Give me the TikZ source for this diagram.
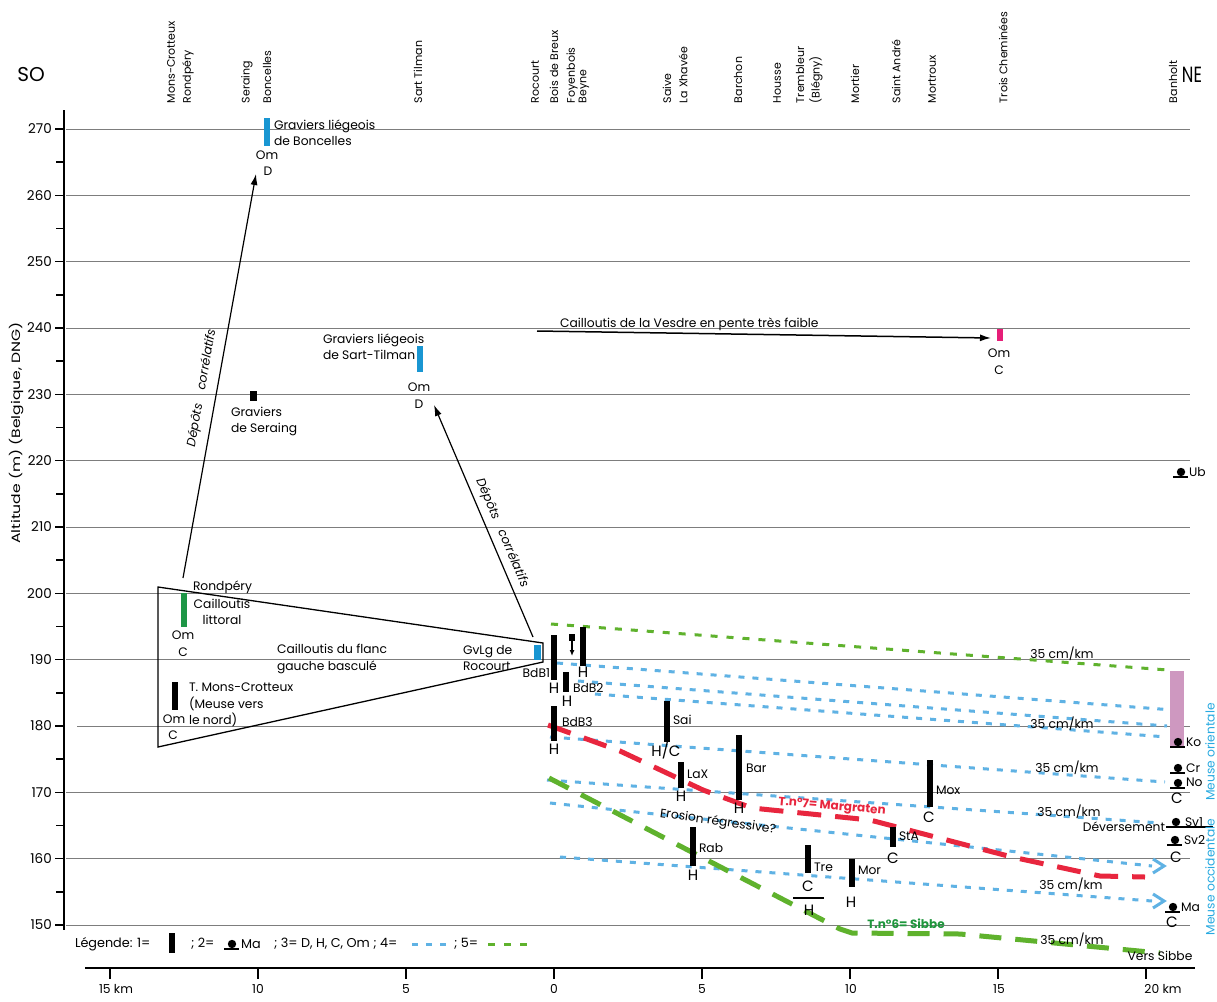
\documentclass[tikz,border=0pt]{standalone}
\usepackage{fontspec}
\setmainfont{Poppins}
\usetikzlibrary{arrows.meta}
\definecolor{gridc}{RGB}{125,125,125}
\definecolor{dblue}{RGB}{95,178,228}
\definecolor{dgreen}{RGB}{95,178,45}
\definecolor{sgreen}{RGB}{95,178,45}
\definecolor{tgreen}{RGB}{30,150,60}
\definecolor{dred}{RGB}{232,38,62}
\definecolor{barblue}{RGB}{25,150,210}
\definecolor{bargreen}{RGB}{30,150,70}
\definecolor{barpink}{RGB}{230,30,120}
\definecolor{mauve}{RGB}{206,152,192}
\definecolor{meuse}{RGB}{40,170,225}
\newcommand{\fsA}{\fontsize{12.3}{16.5}\selectfont}
\newcommand{\fsB}{\fontsize{15}{16}\selectfont}
\newcommand{\fsT}{\fontsize{11}{14}\selectfont}
\newcommand{\fsL}{\fontsize{12.8}{16}\selectfont}
\newcommand{\ballsym}[3]{\fill (#1,#2) circle (4.2pt); \draw[line width=1.3pt] ({#1-8},{#2+5}) -- ({#1+#3},{#2+5});}
\tikzset{
  lbl/.style={inner sep=0pt, outer sep=0pt, font=\fsA, align=left},
  hc/.style={inner sep=0pt, outer sep=0pt, font=\fsB},
  toplbl/.style={inner sep=0pt, outer sep=0pt, font=\fsT, rotate=90, anchor=west},
  leglbl/.style={inner sep=0pt, outer sep=0pt, font=\fsL, anchor=west},
  gridl/.style={draw=gridc, line width=0.8pt},
  bluedash/.style={draw=dblue, line width=3pt, dash pattern=on 6pt off 8pt},
  greendash/.style={draw=dgreen, line width=3pt, dash pattern=on 7pt off 9pt},
  reddash/.style={draw=dred, line width=5pt, dash pattern=on 24pt off 14pt},
  sibbedash/.style={draw=sgreen, line width=5pt, dash pattern=on 22pt off 14pt},
  arr/.style={-{Latex[length=11pt,width=7pt]}, line width=1.2pt},
  chev/.style={draw=dblue, line width=3pt, line join=miter}
}
\begin{document}
\begin{tikzpicture}[x=1pt,y=-1pt]
\useasboundingbox (0,0) rectangle (1217,1001);
\fill[white] (0,0) rectangle (1217,1001);

% grid and y axis
\foreach \a in {150,160,...,270}{
  \pgfmathsetmacro\yy{129+(270-\a)*6.633}
  \pgfmathsetmacro\xs{\a==180 ? 77 : 66}
  \draw[gridl] (\xs,\yy) -- (1190,\yy);
  \draw[line width=1.5pt] (55,\yy) -- (64,\yy);
  \node[inner sep=0pt, anchor=east, font=\fontsize{13.5}{14}\selectfont] at (52,\yy) {\a};
}
\foreach \a in {155,165,...,265}{
  \pgfmathsetmacro\yy{129+(270-\a)*6.633}
  \draw[line width=1.5pt] (56,\yy) -- (64,\yy);
}
\draw[line width=2pt] (64,110) -- (64,930);
\node[inner sep=0pt, rotate=90, font=\fontsize{12}{14}\selectfont] (ytitle) at (17,433) {\scalebox{1.3}[1]{Altitude (m) (Belgique, DNG)}};

% x axis
\draw[line width=2pt] (85,968) -- (1195,968);
\foreach \x in {110,258,406,554,702,850,998,1146}{
  \draw[line width=2pt] (\x,968) -- (\x,979);
}
\node[lbl] (k15) at (116,989) {15 km};
\node[lbl] (k10) at (258,989) {10};
\node[lbl] (k5) at (406,989) {5};
\node[lbl] (k0) at (554,989) {0};
\node[lbl] (p5) at (702,989) {5};
\node[lbl] (p10) at (851,989) {10};
\node[lbl] (p15) at (999,989) {15};
\node[lbl] (p20) at (1163,989) {20 km};

% top labels
\node[font=\fontsize{20}{20}\selectfont, inner sep=0pt] (SO) at (31,75) {SO};
\node[font=\fontsize{22}{22}\selectfont, inner sep=0pt] (NE) at (1192,75) {\scalebox{0.75}[1]{NE}};
\node[toplbl] (tMC) at (171,103) {Mons-Crotteux};
\node[toplbl] (tRo) at (188,103) {Rondpéry};
\node[toplbl] (tSe) at (247,103) {Seraing};
\node[toplbl] (tBo) at (267,103) {Boncelles};
\node[toplbl] (tST) at (418,103) {Sart Tilman};
\node[toplbl] (tRc) at (535,103) {Rocourt};
\node[toplbl] (tBB) at (554,103) {Bois de Breux};
\node[toplbl] (tFo) at (572,103) {Foyenbois};
\node[toplbl] (tBe) at (584,103) {Beyne};
\node[toplbl] (tSa) at (667,103) {Saive};
\node[toplbl] (tLX) at (683,103) {La Xhavée};
\node[toplbl] (tBa) at (738,103) {Barchon};
\node[toplbl] (tHo) at (777,103) {Housse};
\node[toplbl] (tTr) at (800,103) {Trembleur};
\node[toplbl] (tBl) at (816,103) {(Blégny)};
\node[toplbl] (tMo) at (855,103) {Mortier};
\node[toplbl] (tSA) at (896,103) {Saint André};
\node[toplbl] (tMx) at (932,103) {Mortroux};
\node[toplbl] (tTC) at (1003,103) {Trois Cheminées};
\node[toplbl] (tBh) at (1173,103) {Banholt};

% Boncelles
\fill[barblue] (264,118) rectangle (270,146);
\node[lbl, anchor=west] (gBo) at (274,132.5) {Graviers liégeois\\de Boncelles};
\node[lbl] (omBo) at (267,155) {Om};
\node[lbl] (dBo) at (268,171) {D};

% Seraing
\fill[black] (250,391) rectangle (257,401);
\node[lbl, anchor=west] (gSe) at (231,421.5) {Graviers\\de Seraing};

% Sart Tilman
\fill[barblue] (417,346) rectangle (423,372);
\node[lbl, anchor=west] (gST) at (323,346.5) {Graviers liégeois\\de Sart-Tilman};
\node[lbl] (omST) at (419,387) {Om};
\node[lbl] (dST) at (419,404) {D};

% Vesdre
\node[lbl, anchor=west] (vesdre) at (560,324) {Cailloutis de la Vesdre en pente très faible};
\coordinate (vA) at (537,331);
\coordinate (vB) at (991,338);
\draw[arr, line width=1.5pt] (vA) -- (vB);
\fill[barpink] (997,329) rectangle (1003,341);
\node[lbl] (omTC) at (999,353) {Om};
\node[lbl] (cTC) at (999,370) {C};

% triangle
\draw[line width=1.3pt, line join=miter] (158,587) -- (543,643) -- (543,662) -- (158,747) -- cycle;
\fill[bargreen] (181,593) rectangle (187,627);
\node[lbl, anchor=west] (rond) at (193,587) {Rondpéry};
\node[lbl, align=center] (cLit) at (222,612) {Cailloutis\\littoral};
\node[lbl] (omR) at (183,635) {Om};
\node[lbl] (cR) at (183,652) {C};
\node[lbl, anchor=west] (flanc) at (277,659) {Cailloutis du flanc\\gauche basculé};
\fill[barblue] (534,645) rectangle (541,660);
\node[lbl, anchor=west] (gvlg) at (463,658) {GvLg de\\Rocourt};
\fill[black] (172,682) rectangle (178,710);
\node[lbl, anchor=west] (tmc) at (189,705) {T. Mons-Crotteux\\(Meuse vers\\le nord)};
\node[lbl] (omM) at (174,719) {Om};
\node[lbl] (cM) at (173,735) {C};

% correlative deposit arrows
\coordinate (a1s) at (183,578);
\coordinate (a1e) at (256,174);
\draw[arr] (a1s) -- (a1e);
\node[lbl, rotate=80] (dep1) at (202,388) {\textit{Dépôts}\hspace{14pt}\textit{corrélatifs}};
\coordinate (a2s) at (533,637);
\coordinate (a2e) at (434,405);
\draw[arr] (a2s) -- (a2e);
\node[lbl, rotate=-67] (dep2) at (502,533) {\textit{Dépôts}\hspace{12pt}\textit{corrélatifs}};

% dashed terrace lines
\draw[greendash] (551,624) -- (1168,670);
\draw[bluedash] (557,663) -- (1173,710);
\draw[bluedash] (578,681) -- (1167,726);
\draw[bluedash] (595,694) -- (1167,737);
\draw[bluedash] (550,737) -- (1165,782);
\draw[bluedash] (547,780) -- (1160,823);
\draw[bluedash] (550,803) -- (1152,866);
\draw[chev] (1153,859) -- (1164,866) -- (1153,873);
\draw[bluedash] (560,857) -- (1152,901);
\draw[chev] (1153,894) -- (1164,901) -- (1153,908);
\draw[reddash] (548,725) -- (620,751) -- (703,790) -- (752,808) -- (870,820) -- (1012,857) -- (1100,876) -- (1145,877);
\draw[sibbedash] (549,778) -- (840,929) -- (852,933) -- (960,934) -- (1160,953);

% mauve bar
\fill[mauve] (1170,671) rectangle (1184,746);

% black bars and labels
\fill[black] (551,635) rectangle (557,680);
\node[lbl, anchor=east] (bdb1) at (550,673) {BdB1};
\node[hc] (hb1) at (554,688) {H};
\fill[black] (569,634) rectangle (575,641);
\coordinate (sqA) at (572,641);
\coordinate (sqB) at (572,656);
\draw[-{Latex[length=6pt,width=5pt]}, line width=1.2pt] (sqA) -- (sqB);
\fill[black] (580,627) rectangle (586,666);
\node[hc] (hb2a) at (583,672) {H};
\fill[black] (563,672) rectangle (569,692);
\node[lbl, anchor=west] (bdb2) at (573,688) {BdB2};
\node[hc] (hb2) at (567,701) {H};
\fill[black] (551,706) rectangle (557,741);
\node[lbl, anchor=west] (bdb3) at (562,722) {BdB3};
\node[hc] (hb3) at (554,749) {H};
\fill[black] (664,701) rectangle (670,742);
\node[lbl, anchor=west] (sai) at (673,720) {Sai};
\node[hc] (hsai) at (666,751) {H/C};
\fill[black] (678,762) rectangle (684,788);
\node[lbl, anchor=west] (lax) at (687,774) {LaX};
\node[hc] (hlax) at (681,796) {H};
\fill[black] (736,735) rectangle (742,800);
\node[lbl, anchor=west] (bar) at (746,768) {Bar};
\node[hc] (hbar) at (739,808) {H};
\fill[black] (690,827) rectangle (696,866);
\node[lbl, anchor=west] (rab) at (699,848) {Rab};
\node[hc] (hrab) at (693,875) {H};
\fill[black] (805,845) rectangle (811,873);
\node[lbl, anchor=west] (tre) at (814,867) {Tre};
\node[hc] (ctre) at (808,886) {C};
\draw[line width=1.5pt] (793,898) -- (824,898);
\node[hc] (htre) at (809,910) {H};
\fill[black] (849,859) rectangle (855,887);
\node[lbl, anchor=west] (mor) at (858,870) {Mor};
\node[hc] (hmor) at (851,902) {H};
\fill[black] (927,760) rectangle (933,807);
\node[lbl, anchor=west] (mox) at (936,790) {Mox};
\node[hc] (cmox) at (929,817) {C};
\fill[black] (890,827) rectangle (896,847);
\node[lbl, anchor=west] (sta) at (899,836) {StA};
\node[hc] (csta) at (893,858) {C};

% texts on the terraces
\node[lbl, rotate=-8] (eros) at (718,822) {Erosion régressive?};
\node[inner sep=0pt, font=\fontsize{12}{14}\selectfont\bfseries, text=dred, rotate=-5] (tn7) at (832,807) {T.n°7= Margraten};
\node[inner sep=0pt, font=\fontsize{12}{14}\selectfont\bfseries, text=tgreen] (tn6) at (906,924) {T.n°6= Sibbe};
\node[lbl] (s1) at (1062,654) {35 cm/km};
\node[lbl] (s2) at (1062,724) {35 cm/km};
\node[lbl] (s3) at (1067,768) {35 cm/km};
\node[lbl] (s4) at (1069,812) {35 cm/km};
\node[lbl] (s5) at (1071,885) {35 cm/km};
\node[lbl] (s6) at (1072,940) {35 cm/km};
\node[lbl] (vsib) at (1160,956) {Vers Sibbe};

% right column (Banholt)
\ballsym{1181}{472}{7}
\node[lbl, anchor=west] (ub) at (1189,472) {Ub};
\ballsym{1178}{742}{7}
\node[lbl, anchor=west] (ko) at (1186,742) {Ko};
\ballsym{1178}{768}{7}
\node[lbl, anchor=west] (cr) at (1186,768) {Cr};
\ballsym{1178}{783}{7}
\node[lbl, anchor=west] (no) at (1186,782) {No};
\node[hc] (cno) at (1177,798) {C};
\fill (1176,822) circle (4.2pt);
\draw[line width=1.3pt] (1166,827) -- (1213,827);
\node[lbl, anchor=east] (dev) at (1165,827) {Déversement};
\node[lbl, anchor=west] (sv1) at (1185,822) {Sv1};
\ballsym{1175}{840}{7}
\node[lbl, anchor=west] (sv2) at (1184,840) {Sv2};
\node[hc] (csv2) at (1176,857) {C};
\ballsym{1173}{907}{7}
\node[lbl, anchor=west] (ma) at (1181,907) {Ma};
\node[hc] (cma) at (1172,922) {C};
\node[lbl, rotate=90, text=meuse] (mor2) at (1210,752) {Meuse orientale};
\node[lbl, rotate=90, text=meuse] (moc) at (1210,877) {Meuse occidentale};

% legend
\node[leglbl] (leg1) at (75,944) {Légende: 1=};
\fill[black] (169,933) rectangle (175,953);
\node[leglbl] (leg2) at (191,944) {; 2=};
\ballsym{232}{944}{7}
\node[leglbl] (leg2m) at (241,944) {Ma};
\node[leglbl] (leg3) at (274,944) {; 3= D, H, C, Om ; 4=};
\draw[bluedash] (412,944) -- (450,944);
\node[leglbl] (leg5) at (454,944) {; 5=};
\draw[greendash] (488,944) -- (528,944);
\end{tikzpicture}
\end{document}
